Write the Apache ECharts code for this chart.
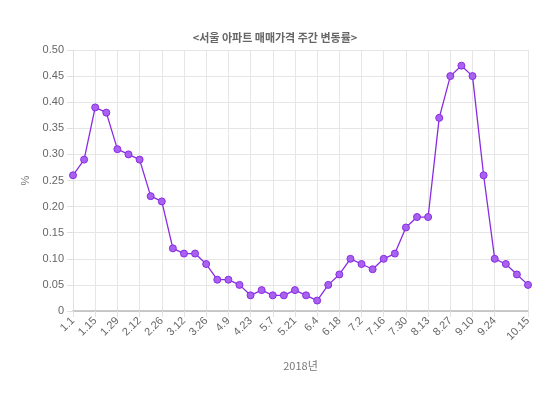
<!DOCTYPE html>
<html><head><meta charset="utf-8">
<script src="https://cdn.jsdelivr.net/npm/echarts@6/dist/echarts.min.js"></script>
<style>html,body{margin:0;padding:0;background:#fff}#c{width:550px;height:395px}</style>
</head><body><div id="c"></div>
<script>
var categories = ['1.1','1.8','1.15','1.22','1.29','2.5','2.12','2.19','2.26','3.5','3.12','3.19','3.26','4.2','4.9','4.16','4.23','4.30','5.7','5.14','5.21','5.28','6.4','6.11','6.18','6.25','7.2','7.9','7.16','7.23','7.30','8.6','8.13','8.20','8.27','9.3','9.10','9.17','9.24','10.1','10.8','10.15'];
var values = [0.26,0.29,0.39,0.38,0.31,0.30,0.29,0.22,0.21,0.12,0.11,0.11,0.09,0.06,0.06,0.05,0.03,0.04,0.03,0.03,0.04,0.03,0.02,0.05,0.07,0.10,0.09,0.08,0.10,0.11,0.16,0.18,0.18,0.37,0.45,0.47,0.45,0.26,0.10,0.09,0.07,0.05];
var titleText = '<서울 아파트 매매가격 주간 변동률>';
var xName = '2018년';
var yName = '%';
var font = '"Liberation Sans", Arial, "Noto Sans CJK KR", sans-serif';
var last = categories.length - 1;
function showIdx(i){ return i === last || (i % 2 === 0 && i !== last - 1); }
var chart = echarts.init(document.getElementById('c'));
chart.setOption({
  animation:false,
  title:{text:titleText,left:'center',top:27,textStyle:{fontSize:11,fontWeight:'bold',color:'#666',fontFamily:'"Noto Sans CJK KR", sans-serif'}},
  grid:{left:73,right:22,top:50,bottom:84},
  xAxis:{type:'category',data:categories,boundaryGap:false,
    name:xName,nameLocation:'middle',nameGap:49,nameTextStyle:{color:'#777',fontSize:11,fontFamily:'"Noto Sans CJK KR", sans-serif'},
    axisLine:{lineStyle:{color:'#bbb',width:1.5}},
    axisTick:{show:true,length:6,interval:function(i){return showIdx(i);},lineStyle:{color:'#e3e3e3'}},
    splitLine:{show:true,interval:function(i){return showIdx(i);},lineStyle:{color:'#e6e6e6'}},
    axisLabel:{interval:function(i){return showIdx(i);},rotate:45,color:'#666',fontSize:11,fontFamily:font,margin:8}},
  yAxis:{type:'value',min:0,max:0.5,interval:0.05,
    name:yName,nameLocation:'middle',nameGap:36,nameRotate:90,nameTextStyle:{color:'#777',fontSize:11,fontFamily:font},
    axisLine:{show:true,lineStyle:{color:'#e0e0e0'}},
    axisTick:{show:true,length:6,lineStyle:{color:'#e0e0e0'}},
    splitLine:{lineStyle:{color:'#e6e6e6'}},
    axisLabel:{color:'#666',fontSize:11,fontFamily:font,margin:9,formatter:function(v){return v===0?'0':v.toFixed(2);}}},
  series:[{type:'line',data:values,symbol:'circle',symbolSize:7,
    lineStyle:{color:'#8a2be2',width:1.3},
    itemStyle:{color:'#a862f0',borderColor:'#8a2be2',borderWidth:1}}]
});
</script></body></html>
